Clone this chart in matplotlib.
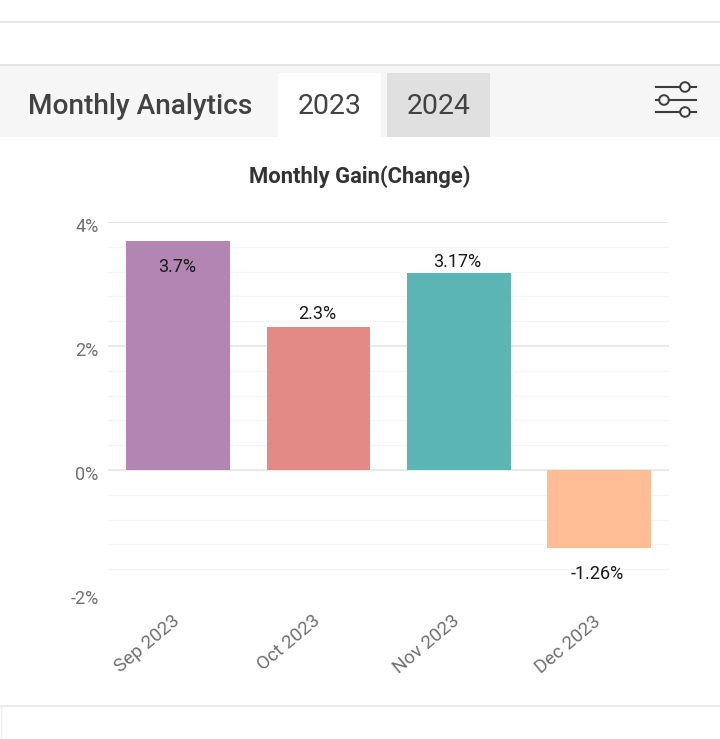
import matplotlib
matplotlib.use('Agg')
import matplotlib.pyplot as plt
from matplotlib.patches import Rectangle, Circle
from matplotlib.ticker import MultipleLocator, FuncFormatter
from matplotlib.transforms import ScaledTranslation

plt.rcParams['font.family'] = ['Roboto', 'DejaVu Sans']

months = ['Sep 2023', 'Oct 2023', 'Nov 2023', 'Dec 2023']
gain = [3.7, 2.3, 3.17, -1.26]
gain_labels = ['3.7%', '2.3%', '3.17%', '-1.26%']
bar_colors = ['#b385b2', '#e38986', '#5bb5b5', '#ffbd96']
label_offsets = [-26, 4, 2, -26]
y_ticks = [-2, 0, 2, 4]

W, H = 720, 739
fig = plt.figure(figsize=(W / 100, H / 100), dpi=100, facecolor='white')

# page chrome, drawn in pixel coordinates
bg = fig.add_axes([0, 0, 1, 1])
bg.set_xlim(0, W)
bg.set_ylim(H, 0)
bg.axis('off')

bg.plot([0, W], [22, 22], color='#e6e6e6', lw=1.4)
bg.add_patch(Rectangle((0, 65), W, 72, color='#f6f6f6', lw=0))
bg.plot([0, W], [64.5, 64.5], color='#e4e4e4', lw=1.4)
bg.add_patch(Rectangle((278, 73), 103, 64, color='white', lw=0))
bg.add_patch(Rectangle((387, 73), 103, 64, color='#e0e0e0', lw=0))
bg.text(28, 106, 'Monthly Analytics', fontsize=20.2, fontweight='medium', color='#424242', va='center')
bg.text(329.5, 106, '2023', fontsize=20.5, color='#424242', va='center', ha='center')
bg.text(438.5, 106, '2024', fontsize=20.5, color='#424242', va='center', ha='center')
bg.text(360, 176.5, 'Monthly Gain(Change)', fontsize=15.8, fontweight='bold', color='#333333',
        va='center', ha='center')

# filter icon
for y, cx in [(87, 685), (100, 664), (112, 685)]:
    bg.plot([656, 696], [y, y], color='#3c3c3c', lw=1.5, zorder=3)
    bg.add_patch(Circle((cx, y), 4.8, facecolor='#f6f6f6', edgecolor='#3c3c3c', lw=1.4, zorder=4))

bg.plot([0, W], [706, 706], color='#e8e8e8', lw=1.2)
bg.plot([1, 1], [706, H], color='#eeeeee', lw=1)

# chart, x 108-669 and y 222-594 in pixels
ax = fig.add_axes([108.2 / W, 1 - 594 / H, (669 - 108) / W, (594 - 222) / H])
ax.patch.set_alpha(0)
x = range(len(months))
bars = ax.bar(x, gain, width=0.74, color=bar_colors, zorder=3)
ax.set_xlim(-0.5, 3.5)
ax.set_ylim(-2, 4)

for bar, text, off in zip(bars, gain_labels, label_offsets):
    ax.annotate(text, (bar.get_x() + bar.get_width() / 2, bar.get_height()),
                xytext=(-1.2, off * 0.72), textcoords='offset points',
                ha='center', va='center' if off < 0 else 'bottom',
                fontsize=13, color='#1a1a1a', zorder=4)

ax.set_yticks(y_ticks)
ax.yaxis.set_major_formatter(FuncFormatter(lambda v, p: f'{v:.0f}%'))
ax.yaxis.set_minor_locator(MultipleLocator(0.4))
ax.grid(axis='y', which='major', color='#e6e6e6', lw=1.2, zorder=0)
ax.grid(axis='y', which='minor', color='#f5f5f5', lw=1, zorder=0)
ax.get_ygridlines()[0].set_visible(False)
ax.tick_params(axis='both', which='both', length=0)
ax.tick_params(axis='y', labelsize=13, labelcolor='#707070', pad=7)
for s in ax.spines.values():
    s.set_visible(False)

offset = ScaledTranslation(0, -2.5 / 72, fig.dpi_scale_trans)
for lab in ax.get_yticklabels():
    lab.set_transform(lab.get_transform() + offset)

ax.set_xticks(list(x))
ax.set_xticklabels(months, rotation=40, ha='right', rotation_mode='anchor',
                   fontsize=13.5, color='#707070')
ax.tick_params(axis='x', pad=13)
shift = ScaledTranslation(-0.07, 0, fig.dpi_scale_trans)
for lab in ax.get_xticklabels():
    lab.set_transform(lab.get_transform() + shift)

fig.savefig('out.png', dpi=100)
